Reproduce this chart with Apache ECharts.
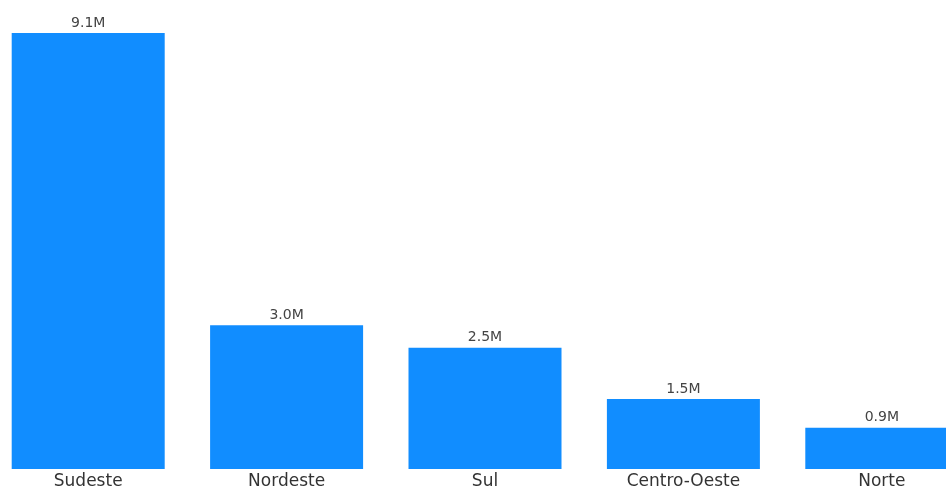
<!DOCTYPE html>
<html>
<head>
<meta charset="utf-8">
<script src="https://cdn.jsdelivr.net/npm/echarts@6/dist/echarts.min.js"></script>
<style>
  html, body { margin: 0; padding: 0; background: #fff; }
  #main { width: 946px; height: 489px; }
</style>
</head>
<body>
<div id="main"></div>
<script>
// regiões e valores
var regioes = ['Sudeste', 'Nordeste', 'Sul', 'Centro-Oeste', 'Norte'];
var valores = [9100000, 3000000, 2530000, 1460000, 860000];

var myChart = echarts.init(document.getElementById('main'));

var option = {
    animation: false,
    // o grid sai um pouco da tela dos dois lados (a barra Norte fica cortada)
    grid: { left: -11, right: -35, top: 33, bottom: 20, outerBoundsMode: 'none', containLabel: false },
    xAxis: {
        type: 'category',
        data: regioes,
        axisLine: { show: false },
        axisTick: { show: false },
        axisLabel: {
            margin: 4,
            fontFamily: 'DejaVu Sans',
            fontSize: 17,
            color: '#333'
        }
    },
    yAxis: {
        type: 'value',
        min: 0,
        max: 9100000,
        show: false
    },
    series: [
        {
            type: 'bar',
            data: valores,
            barWidth: 153,
            itemStyle: { color: '#118DFF' },
            label: {
                show: true,
                position: 'top',
                distance: 3,
                fontFamily: 'DejaVu Sans',
                fontSize: 14,
                color: '#444',
                formatter: function (p) {
                    return (p.value / 1000000).toFixed(1) + 'M';
                }
            }
        }
    ]
};

myChart.setOption(option);
</script>
</body>
</html>
